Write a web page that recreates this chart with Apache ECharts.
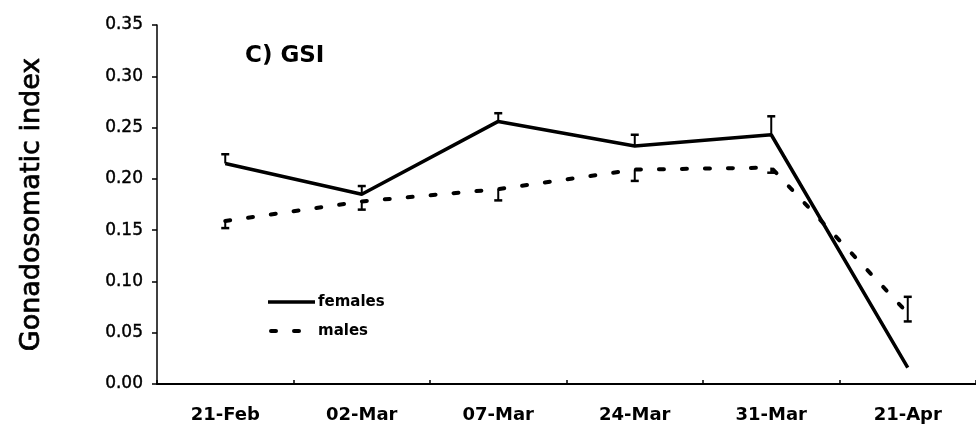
<!DOCTYPE html>
<html>
<head>
<meta charset="utf-8">
<script src="https://cdn.jsdelivr.net/npm/echarts@6/dist/echarts.min.js"></script>
<style>html,body{margin:0;padding:0;background:#fff}#c{width:976px;height:428px}</style>
</head>
<body>
<div id="c"></div>
<script>
var categories = ['21-Feb', '02-Mar', '07-Mar', '24-Mar', '31-Mar', '21-Apr'];
var females = [0.215, 0.185, 0.256, 0.232, 0.243, 0.016];
var femalesErrUp = [0.009, 0.008, 0.008, 0.011, 0.018, 0.0];
var femalesErrDown = [0, 0, 0, 0, 0, 0];
var males = [0.159, 0.178, 0.190, 0.209, 0.211, 0.069];
var malesErrUp = [0, 0, 0, 0, 0, 0.016];
var malesErrDown = [0.007, 0.008, 0.011, 0.011, 0.005, 0.008];
var yTicks = [0, 0.05, 0.10, 0.15, 0.20, 0.25, 0.30, 0.35];
var seriesNames = ['females', 'males'];

function errData(vals, up, down) {
  return vals.map(function (v, i) { return [i, v - down[i], v + up[i], up[i] > 0, down[i] > 0]; });
}

function errRender(params, api) {
  var x = api.value(0);
  var lo = api.coord([x, api.value(1)]);
  var hi = api.coord([x, api.value(2)]);
  var hw = 4;
  var children = [{
    type: 'line', shape: {x1: hi[0], y1: hi[1], x2: lo[0], y2: lo[1]},
    style: {stroke: '#000', lineWidth: 2}
  }];
  if (api.value(3)) children.push({type: 'line', shape: {x1: hi[0] - hw, y1: hi[1], x2: hi[0] + hw, y2: hi[1]}, style: {stroke: '#000', lineWidth: 2.5}});
  if (api.value(4)) children.push({type: 'line', shape: {x1: lo[0] - hw, y1: lo[1], x2: lo[0] + hw, y2: lo[1]}, style: {stroke: '#000', lineWidth: 2.5}});
  return {type: 'group', children: children};
}

var legendFont = {fontFamily: 'DejaVu Sans', fontWeight: 'bold', fontSize: 15, fill: '#000'};

var chart = echarts.init(document.getElementById('c'), null, {renderer: 'canvas'});
chart.setOption({
  animation: false,
  backgroundColor: '#fff',
  title: {
    text: 'C) GSI', left: 240, top: 40,
    textStyle: {fontFamily: 'DejaVu Sans', fontWeight: 'bold', fontSize: 23, color: '#000'}
  },
  graphic: [
    {type: 'line', shape: {x1: 268, y1: 302, x2: 315, y2: 302}, style: {stroke: '#000', lineWidth: 3.5}},
    {type: 'text', left: 318, top: 295, style: Object.assign({text: seriesNames[0]}, legendFont)},
    {type: 'line', shape: {x1: 271, y1: 331, x2: 300, y2: 331}, style: {stroke: '#000', lineWidth: 4, lineDash: [5, 18], lineCap: 'round'}},
    {type: 'text', left: 318, top: 324, style: Object.assign({text: seriesNames[1]}, legendFont)}
  ],
  grid: {left: 157, right: 0, top: 25, bottom: 44, containLabel: false},
  xAxis: {
    type: 'category', data: categories, boundaryGap: true,
    axisLine: {lineStyle: {color: '#000', width: 2}},
    axisTick: {show: true, inside: true, length: 4, lineStyle: {color: '#000', width: 1.5}},
    axisLabel: {margin: 22, fontFamily: 'DejaVu Sans', fontWeight: 'bold', fontSize: 18, color: '#000'}
  },
  yAxis: {
    type: 'value', min: 0, max: 0.35, interval: 0.05,
    name: 'Gonadosomatic index', nameLocation: 'middle', nameGap: 112,
    nameTextStyle: {fontFamily: 'DejaVu Sans', fontSize: 27, color: '#000', textBorderColor: '#000', textBorderWidth: 0.7},
    axisLine: {show: true, lineStyle: {color: '#000', width: 1.5}},
    axisTick: {show: true, length: 5, lineStyle: {color: '#000', width: 1.5}},
    splitLine: {show: false},
    axisLabel: {
      margin: 14, fontFamily: 'DejaVu Sans', fontSize: 17, color: '#000', textBorderColor: '#000', textBorderWidth: 0.4,
      formatter: function (v) {
        var t = yTicks.find(function (k) { return Math.abs(k - v) < 1e-9; });
        return (t === undefined ? v : t).toFixed(2);
      }
    }
  },
  series: [
    {
      name: seriesNames[0], type: 'line', data: females, symbol: 'none',
      lineStyle: {color: '#000', width: 3.5}, itemStyle: {color: '#000'}, z: 3
    },
    {
      name: seriesNames[1], type: 'line', data: males, symbol: 'none',
      lineStyle: {color: '#000', width: 4, type: [5, 18], cap: 'round'}, itemStyle: {color: '#000'}, z: 3
    },
    {
      type: 'custom', renderItem: errRender, data: errData(females, femalesErrUp, femalesErrDown),
      encode: {x: 0, y: [1, 2]}, z: 4, silent: true
    },
    {
      type: 'custom', renderItem: errRender, data: errData(males, malesErrUp, malesErrDown),
      encode: {x: 0, y: [1, 2]}, z: 4, silent: true
    }
  ]
});
</script>
</body>
</html>
